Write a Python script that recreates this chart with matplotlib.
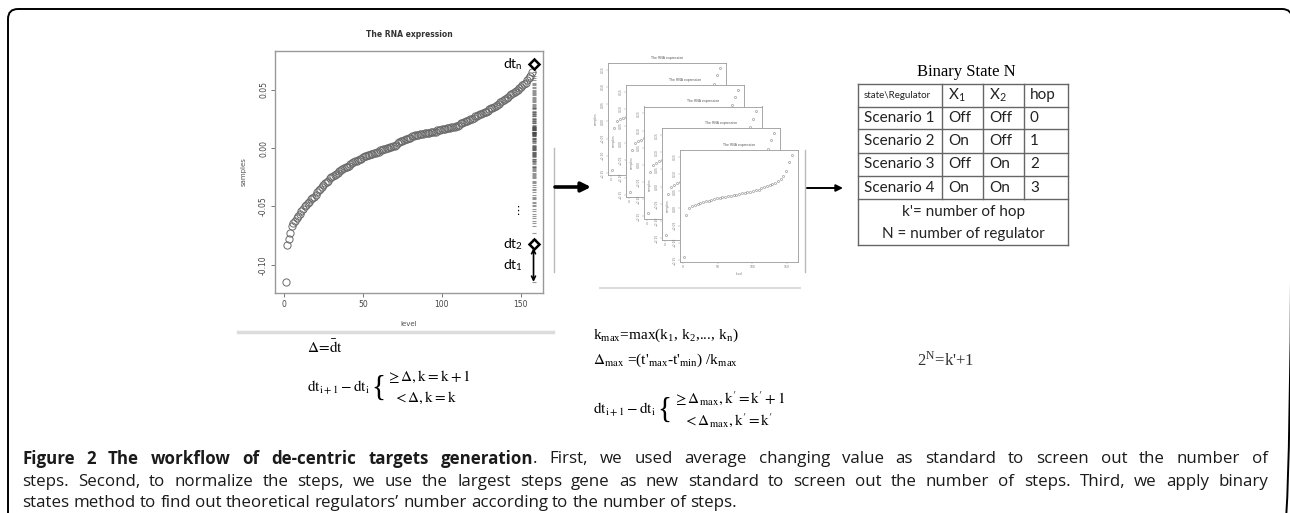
import numpy as np
import matplotlib
matplotlib.use("Agg")
import matplotlib.pyplot as plt
from matplotlib.patches import FancyBboxPatch

plt.rcParams['mathtext.fontset'] = 'stix'

W, H = 1290, 513

# sorted RNA expression values, levels 1..157
rna_values = [
    -0.115, -0.083, -0.078, -0.073, -0.067, -0.064, -0.062, -0.060, -0.058, -0.056,
    -0.054, -0.052, -0.050, -0.049, -0.047, -0.046, -0.044, -0.043, -0.042, -0.040,
    -0.038, -0.036, -0.035, -0.033, -0.032, -0.030, -0.029, -0.028, -0.026, -0.025,
    -0.024, -0.023, -0.022, -0.021, -0.020, -0.019, -0.018, -0.017, -0.016, -0.016,
    -0.015, -0.014, -0.013, -0.012, -0.011, -0.011, -0.010, -0.009, -0.009, -0.008,
    -0.007, -0.007, -0.006, -0.006, -0.005, -0.005, -0.004, -0.004, -0.003, -0.003,
    -0.002, -0.002, -0.001, -0.001, 0.000, 0.000, 0.001, 0.001, 0.002, 0.002,
    0.003, 0.004, 0.005, 0.006, 0.006, 0.007, 0.008, 0.008, 0.009, 0.009,
    0.010, 0.010, 0.011, 0.011, 0.011, 0.012, 0.012, 0.012, 0.013, 0.013,
    0.013, 0.013, 0.014, 0.014, 0.014, 0.014, 0.015, 0.015, 0.015, 0.016,
    0.016, 0.016, 0.017, 0.017, 0.017, 0.018, 0.018, 0.018, 0.019, 0.019,
    0.020, 0.021, 0.021, 0.022, 0.023, 0.023, 0.024, 0.025, 0.025, 0.026,
    0.027, 0.027, 0.028, 0.029, 0.029, 0.030, 0.031, 0.031, 0.032, 0.033,
    0.034, 0.034, 0.035, 0.036, 0.037, 0.038, 0.039, 0.040, 0.041, 0.042,
    0.043, 0.044, 0.045, 0.046, 0.047, 0.048, 0.049, 0.050, 0.051, 0.052,
    0.054, 0.055, 0.056, 0.058, 0.060, 0.062, 0.065,
]
dt_marks = [0.0718, -0.082]          # dt_n, dt_2
dt1_span = [-0.0855, -0.1145]

# thumbnail curve repeated in the stacked small plots
mini_levels = list(range(1, 158, 4))
mini_values = [
    -0.141, -0.020, 0.000, 0.006, 0.010, 0.014, 0.016, 0.019, 0.021, 0.023,
    0.025, 0.027, 0.029, 0.030, 0.032, 0.034, 0.035, 0.037, 0.039, 0.040,
    0.042, 0.044, 0.046, 0.047, 0.049, 0.051, 0.053, 0.055, 0.058, 0.061,
    0.064, 0.067, 0.071, 0.075, 0.080, 0.086, 0.095, 0.110, 0.135, 0.156,
]

table_title = 'Binary State N'
table_header = ['state\\Regulator', 'X$_\\mathregular{1}$', 'X$_\\mathregular{2}$', 'hop']
table_rows = [
    ['Scenario 1', 'Off', 'Off', '0'],
    ['Scenario 2', 'On', 'Off', '1'],
    ['Scenario 3', 'Off', 'On', '2'],
    ['Scenario 4', 'On', 'On', '3'],
]
table_notes = ["k'= number of hop", 'N = number of regulator']

caption_bold = 'Figure 2 The workflow of de-centric targets generation'
caption_lines = [
    '. First, we used average changing value as standard to screen out the number of',
    'steps. Second, to normalize the steps, we use the largest steps gene as new standard to screen out the number of steps. Third, we apply binary',
    'states method to find out theoretical regulators\u2019 number according to the number of steps.',
]

fig = plt.figure(figsize=(W / 100, H / 100), dpi=100)

# full-figure pixel canvas for frame, arrows, formulas, table and caption
canvas = fig.add_axes([0, 0, 1, 1])
canvas.set_xlim(0, W)
canvas.set_ylim(H, 0)
canvas.axis('off')


def px_axes(left, top, right, bottom):
    return fig.add_axes([left / W, 1 - bottom / H, (right - left) / W, (bottom - top) / H])


# outer rounded frame
canvas.add_patch(FancyBboxPatch((8, 9), 1284, 540, boxstyle='round,pad=0,rounding_size=10',
                                fc='none', ec='black', lw=1.4))

# ---- main scatter panel
ax = px_axes(275, 51, 543, 293)
levels = np.arange(1, len(rna_values) + 1)
ax.plot(levels, rna_values, 'o', ms=5.2, mfc='none', mec='#6a6a6a', mew=0.7)
ax.plot(np.full(len(rna_values), 158), rna_values, '_', ms=3.5, color='#444', mew=0.8, alpha=0.55)
ax.set_xlim(-5.7, 164)
ax.set_ylim(-0.124, 0.083)
ax.set_xticks([0, 50, 100, 150])
ax.set_yticks([-0.10, -0.05, 0.00, 0.05])
ax.set_yticklabels(['-0.10', '-0.05', '0.00', '0.05'], rotation=90, va='center')
for s in ax.spines.values():
    s.set_color('#999')
    s.set_linewidth(1)
ax.tick_params(length=3, width=0.7, color='#777', labelsize=5.5, labelcolor='#444', pad=2)
ax.set_title('The RNA expression', fontsize=5.5, fontweight='bold', color='#333', pad=10)
ax.set_xlabel('level', fontsize=5, color='#555', labelpad=9)
ax.set_ylabel('samples', fontsize=5, color='#555', labelpad=9)

ax.plot([158, 158], dt_marks, 'D', ms=5.5, mfc='white', mec='black', mew=1.8)
ax.text(151, dt_marks[0], r'dt$_\mathregular{n}$', ha='right', va='center', fontsize=10, family='Lato')
ax.text(151.5, dt_marks[1], r'dt$_\mathregular{2}$', ha='right', va='center', fontsize=10, family='Lato')
ax.text(151.5, -0.100, r'dt$_\mathregular{1}$', ha='right', va='center', fontsize=10, family='Lato')
ax.annotate('', xy=(158, dt1_span[1]), xytext=(158, dt1_span[0]),
            arrowprops=dict(arrowstyle='<->', lw=1.2, color='black', mutation_scale=7, shrinkA=0, shrinkB=0))
ax.text(148, -0.054, '\u22ee', fontsize=8, ha='center', va='center', family='DejaVu Sans')

# separators and arrows
canvas.plot([238, 553], [332, 332], color='#dcdcdc', lw=2.5)
canvas.plot([600, 800], [288, 288], color='#dcdcdc', lw=1.5)
canvas.plot([554, 554], [148, 272], color='#bbbbbb', lw=1)
canvas.plot([805, 805], [150, 272], color='#bbbbbb', lw=1)
canvas.annotate('', xy=(591, 187), xytext=(555, 187),
                arrowprops=dict(arrowstyle='-|>', lw=2.6, color='black', mutation_scale=14, shrinkA=0, shrinkB=0))
canvas.annotate('', xy=(843, 188), xytext=(807, 188),
                arrowprops=dict(arrowstyle='-|>', lw=1.4, color='black', mutation_scale=10, shrinkA=0, shrinkB=0))

# ---- stacked thumbnails
for i in range(5):
    left = 608 + 18 * i
    top = 63 + 21.75 * i
    m = px_axes(left, top, left + 118, top + 112)
    m.plot(mini_levels, mini_values, 'o', ms=1.5, mfc='none', mec='#777', mew=0.35)
    m.set_xlim(-4.3, 166)
    m.set_ylim(-0.156, 0.170)
    m.set_xticks([0, 50, 100, 150])
    m.set_yticks([-0.15, -0.10, -0.05, 0.0, 0.05, 0.10, 0.15])
    m.tick_params(length=1.2, width=0.3, color='#999', labelsize=2.2, labelcolor='#777', pad=1)
    for lab in m.get_yticklabels():
        lab.set_rotation(90)
        lab.set_va('center')
    for s in m.spines.values():
        s.set_color('#999')
        s.set_linewidth(0.6)
    m.set_title('The RNA expression', fontsize=2.3, color='#555', pad=3)
    m.set_xlabel('level', fontsize=2.2, color='#777', labelpad=2)
    m.set_ylabel('samples', fontsize=2.2, color='#777', labelpad=2)

# ---- formulas
fs = 11
serif = 'Liberation Serif'
canvas.text(307, 347, r'$\Delta\!=\!\bar{\mathrm{d}}\mathrm{t}$', fontsize=fs, va='center')
canvas.text(307, 388, r'$\mathrm{dt}_{\mathrm{i+1}} - \mathrm{dt}_{\mathrm{i}}$', fontsize=fs, va='center')
canvas.text(371, 388, '{', fontsize=21, va='center', family=serif)
canvas.text(386, 377, r'$\geq \Delta, \mathrm{k} = \mathrm{k} + 1$', fontsize=fs, va='center')
canvas.text(393, 398, r'$< \Delta, \mathrm{k} = \mathrm{k}$', fontsize=fs, va='center')

canvas.text(593, 335, r'k$_\mathregular{max}$=max(k$_\mathregular{1}$, k$_\mathregular{2}$,..., k$_\mathregular{n}$)',
            fontsize=11, va='center', family=serif)
canvas.text(593, 360, r"$\Delta_{\mathrm{max}}$ =(t'$_\mathregular{max}$-t'$_\mathregular{min}$) /k$_\mathregular{max}$",
            fontsize=11, va='center', family=serif)
canvas.text(593, 410, r'$\mathrm{dt}_{\mathrm{i+1}} - \mathrm{dt}_{\mathrm{i}}$', fontsize=fs, va='center')
canvas.text(657, 410, '{', fontsize=21, va='center', family=serif)
canvas.text(673, 398, r"$\geq \Delta_{\mathrm{max}}, \mathrm{k}' = \mathrm{k}' + 1$", fontsize=fs, va='center')
canvas.text(683, 420, r"$< \Delta_{\mathrm{max}}, \mathrm{k}' = \mathrm{k}'$", fontsize=fs, va='center')

canvas.text(917, 360, r"2$^{\mathregular{N}}$=k'+1", fontsize=12, va='center',
            family=serif, color='#333')

# ---- binary state table
col_x = [858, 942, 983, 1024, 1068]
row_y = [84, 107, 129, 153, 176, 199, 245]
canvas.text(966, 72, table_title, ha='center', va='center', family=serif, fontsize=12)
for y in row_y:
    canvas.plot([col_x[0], col_x[-1]], [y, y], color='#666', lw=1)
for x in col_x:
    bottom = row_y[-1] if x in (col_x[0], col_x[-1]) else row_y[-2]
    canvas.plot([x, x], [row_y[0], bottom], color='#666', lw=1)
for r, row in enumerate([table_header] + table_rows):
    yc = (row_y[r] + row_y[r + 1]) / 2
    for c, val in enumerate(row):
        size = 7 if (r == 0 and c == 0) else 11
        canvas.text(col_x[c] + 6, yc, val, fontsize=size, va='center', family='Lato', color='#222')
canvas.text((col_x[0] + col_x[-1]) / 2, 212, table_notes[0], ha='center', va='center',
            fontsize=11, family='Lato', color='#222')
canvas.text((col_x[0] + col_x[-1]) / 2, 234, table_notes[1], ha='center', va='center',
            fontsize=11, family='Lato', color='#222')

# ---- caption, justified word by word
renderer = fig.canvas.get_renderer()


def caption_line(tokens, y, justify, x0=22, x1=1268):
    texts = []
    for word, bold, glue in tokens:
        t = canvas.text(0, y, word, fontsize=12.2, family='Open Sans', va='center', color='#1a1a1a',
                        fontweight='bold' if bold else 'normal')
        texts.append((t, glue))
    widths = [t.get_window_extent(renderer).width for t, _ in texts]
    n_gaps = sum(1 for k, (_, g) in enumerate(texts) if k > 0 and not g)
    space = 4.2
    if justify and n_gaps:
        space = (x1 - x0 - sum(widths)) / n_gaps
    x = x0
    for k, ((t, glue), w) in enumerate(zip(texts, widths)):
        if k > 0 and not glue:
            x += space
        t.set_x(x)
        x += w


line1 = [(w, True, False) for w in caption_bold.split()]
rest = caption_lines[0].split()
line1 += [(rest[0], False, True)] + [(w, False, False) for w in rest[1:]]
caption_line(line1, 459, True)
caption_line([(w, False, False) for w in caption_lines[1].split()], 482, True)
caption_line([(w, False, False) for w in caption_lines[2].split()], 503, False)

fig.savefig('out.png', dpi=100)
